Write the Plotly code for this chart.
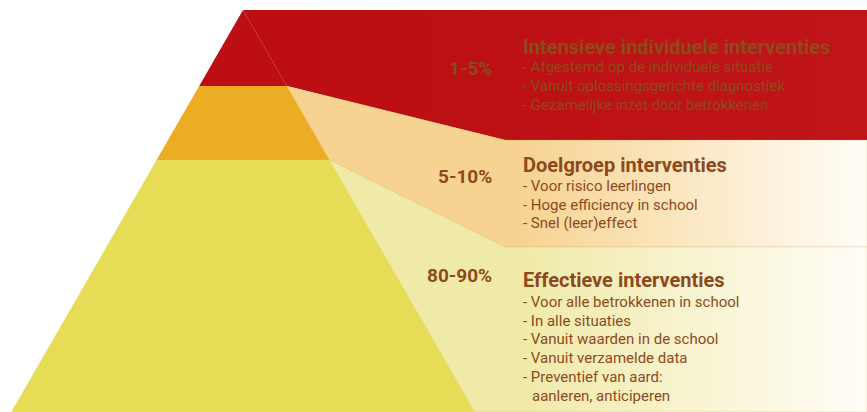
import plotly.graph_objects as go

# ---------------- data ----------------
tier_titles = ["Intensieve individuele interventies", "Doelgroep interventies", "Effectieve interventies"]
tier_shares = ["1-5%", "5-10%", "80-90%"]
tier_points = [
    ["- Afgestemd op de individuele situatie",
     "- Vanuit oplossingsgerichte diagnostiek",
     "- Gezamelijke inzet door betrokkenen"],
    ["- Voor risico leerlingen",
     "- Hoge efficiency in school",
     "- Snel (leer)effect"],
    ["- Voor alle betrokkenen in school",
     "- In alle situaties",
     "- Vanuit waarden in de school",
     "- Vanuit verzamelde data",
     "- Preventief van aard:",
     "  aanleren, anticiperen"],
]
tier_colors = ["#BC0E13", "#ECAD25", "#E7DC56"]
band_colors = ["#BC0E13", "#F7D391", "#F0EAA8"]

# ---------------- layout geometry ----------------
W, H = 867, 412
apex_x, apex_y = 243, 10
slope = 0.5765            # half-width per pixel of height
tier_bottoms = [86, 160, 412]
band_bottoms = [140, 247, 412]
band_kink_x = 505
text_x = 521
share_x = 494
title_y = [47, 165, 280]
first_line_y = [67, 186, 302]
line_step = [19, 18.5, 18.7]
share_y = [68, 176, 275]
brown = "#8E4A1C"
FONT = "Roboto"

def edge_x(y, side):
    return apex_x + side * slope * (y - apex_y)

fig = go.Figure()

# bands to the right
tops = [apex_y] + tier_bottoms[:-1]
for i in range(3):
    y0 = tops[i]
    y1 = tier_bottoms[i]
    if i == 0:
        xs = [edge_x(y0, 1), W, W, band_kink_x, edge_x(y1, 1)]
        ys = [y0, y0, band_bottoms[0], band_bottoms[0], y1]
    elif i == 1:
        xs = [edge_x(y0, 1), band_kink_x, W, W, band_kink_x, edge_x(y1, 1)]
        ys = [y0, band_bottoms[0], band_bottoms[0], band_bottoms[1], band_bottoms[1], y1]
    else:
        xs = [edge_x(y0, 1), band_kink_x, W, W, edge_x(y1, 1)]
        ys = [y0, band_bottoms[1], band_bottoms[1], H, H]
    xs.append(xs[0]); ys.append(ys[0])
    if i == 0:
        cs = [[0, "#BB0D12"], [1, "#BF1519"]]
    else:
        x_min = min(xs)
        solid = (520 - x_min) / (W - x_min)
        cs = [[0, band_colors[i]], [solid, band_colors[i]], [1, "#FFFDF8"]]
    fig.add_trace(go.Scatter(
        x=xs, y=ys, mode="lines", fill="toself",
        line=dict(width=0.6, color="rgba(200,150,60,0.35)" if i else "rgba(0,0,0,0)"),
        fillgradient=dict(type="horizontal", colorscale=cs),
        hoverinfo="skip", showlegend=False))

# pyramid tiers
for i in range(3):
    y0 = tops[i]
    y1 = tier_bottoms[i]
    xs = [edge_x(y0, -1), edge_x(y0, 1), edge_x(y1, 1), edge_x(y1, -1), edge_x(y0, -1)]
    ys = [y0, y0, y1, y1, y0]
    fig.add_trace(go.Scatter(
        x=xs, y=ys, mode="lines", fill="toself", fillcolor=tier_colors[i],
        line=dict(width=0), hoverinfo="skip", showlegend=False))

# texts
for i in range(3):
    fig.add_annotation(x=share_x, y=share_y[i], text="<b>%s</b>" % tier_shares[i],
                       xanchor="right", yanchor="middle", showarrow=False,
                       font=dict(family=FONT, size=19, color=brown))
    fig.add_annotation(x=text_x, y=title_y[i], text="<b>%s</b>" % tier_titles[i],
                       xanchor="left", yanchor="middle", showarrow=False,
                       font=dict(family=FONT, size=20, color=brown))
    for j, line in enumerate(tier_points[i]):
        txt = line
        xx = text_x
        if line.startswith("  "):
            txt = line.strip()
            xx = text_x + 9
        fig.add_annotation(x=xx, y=first_line_y[i] + j * line_step[i], text=txt,
                           xanchor="left", yanchor="middle", showarrow=False,
                           font=dict(family=FONT, size=15, color=brown))

fig.update_layout(
    width=W, height=H,
    margin=dict(l=0, r=0, t=0, b=0, pad=0),
    paper_bgcolor="white", plot_bgcolor="white",
    hovermode=False,
    xaxis=dict(range=[0, W], visible=False, fixedrange=True),
    yaxis=dict(range=[H, 0], visible=False, fixedrange=True),
)
fig.write_html(
    "out.html",
    config={"displayModeBar": False, "staticPlot": True},
    post_script="document.body.style.margin='0';document.body.style.overflow='hidden';",
)
